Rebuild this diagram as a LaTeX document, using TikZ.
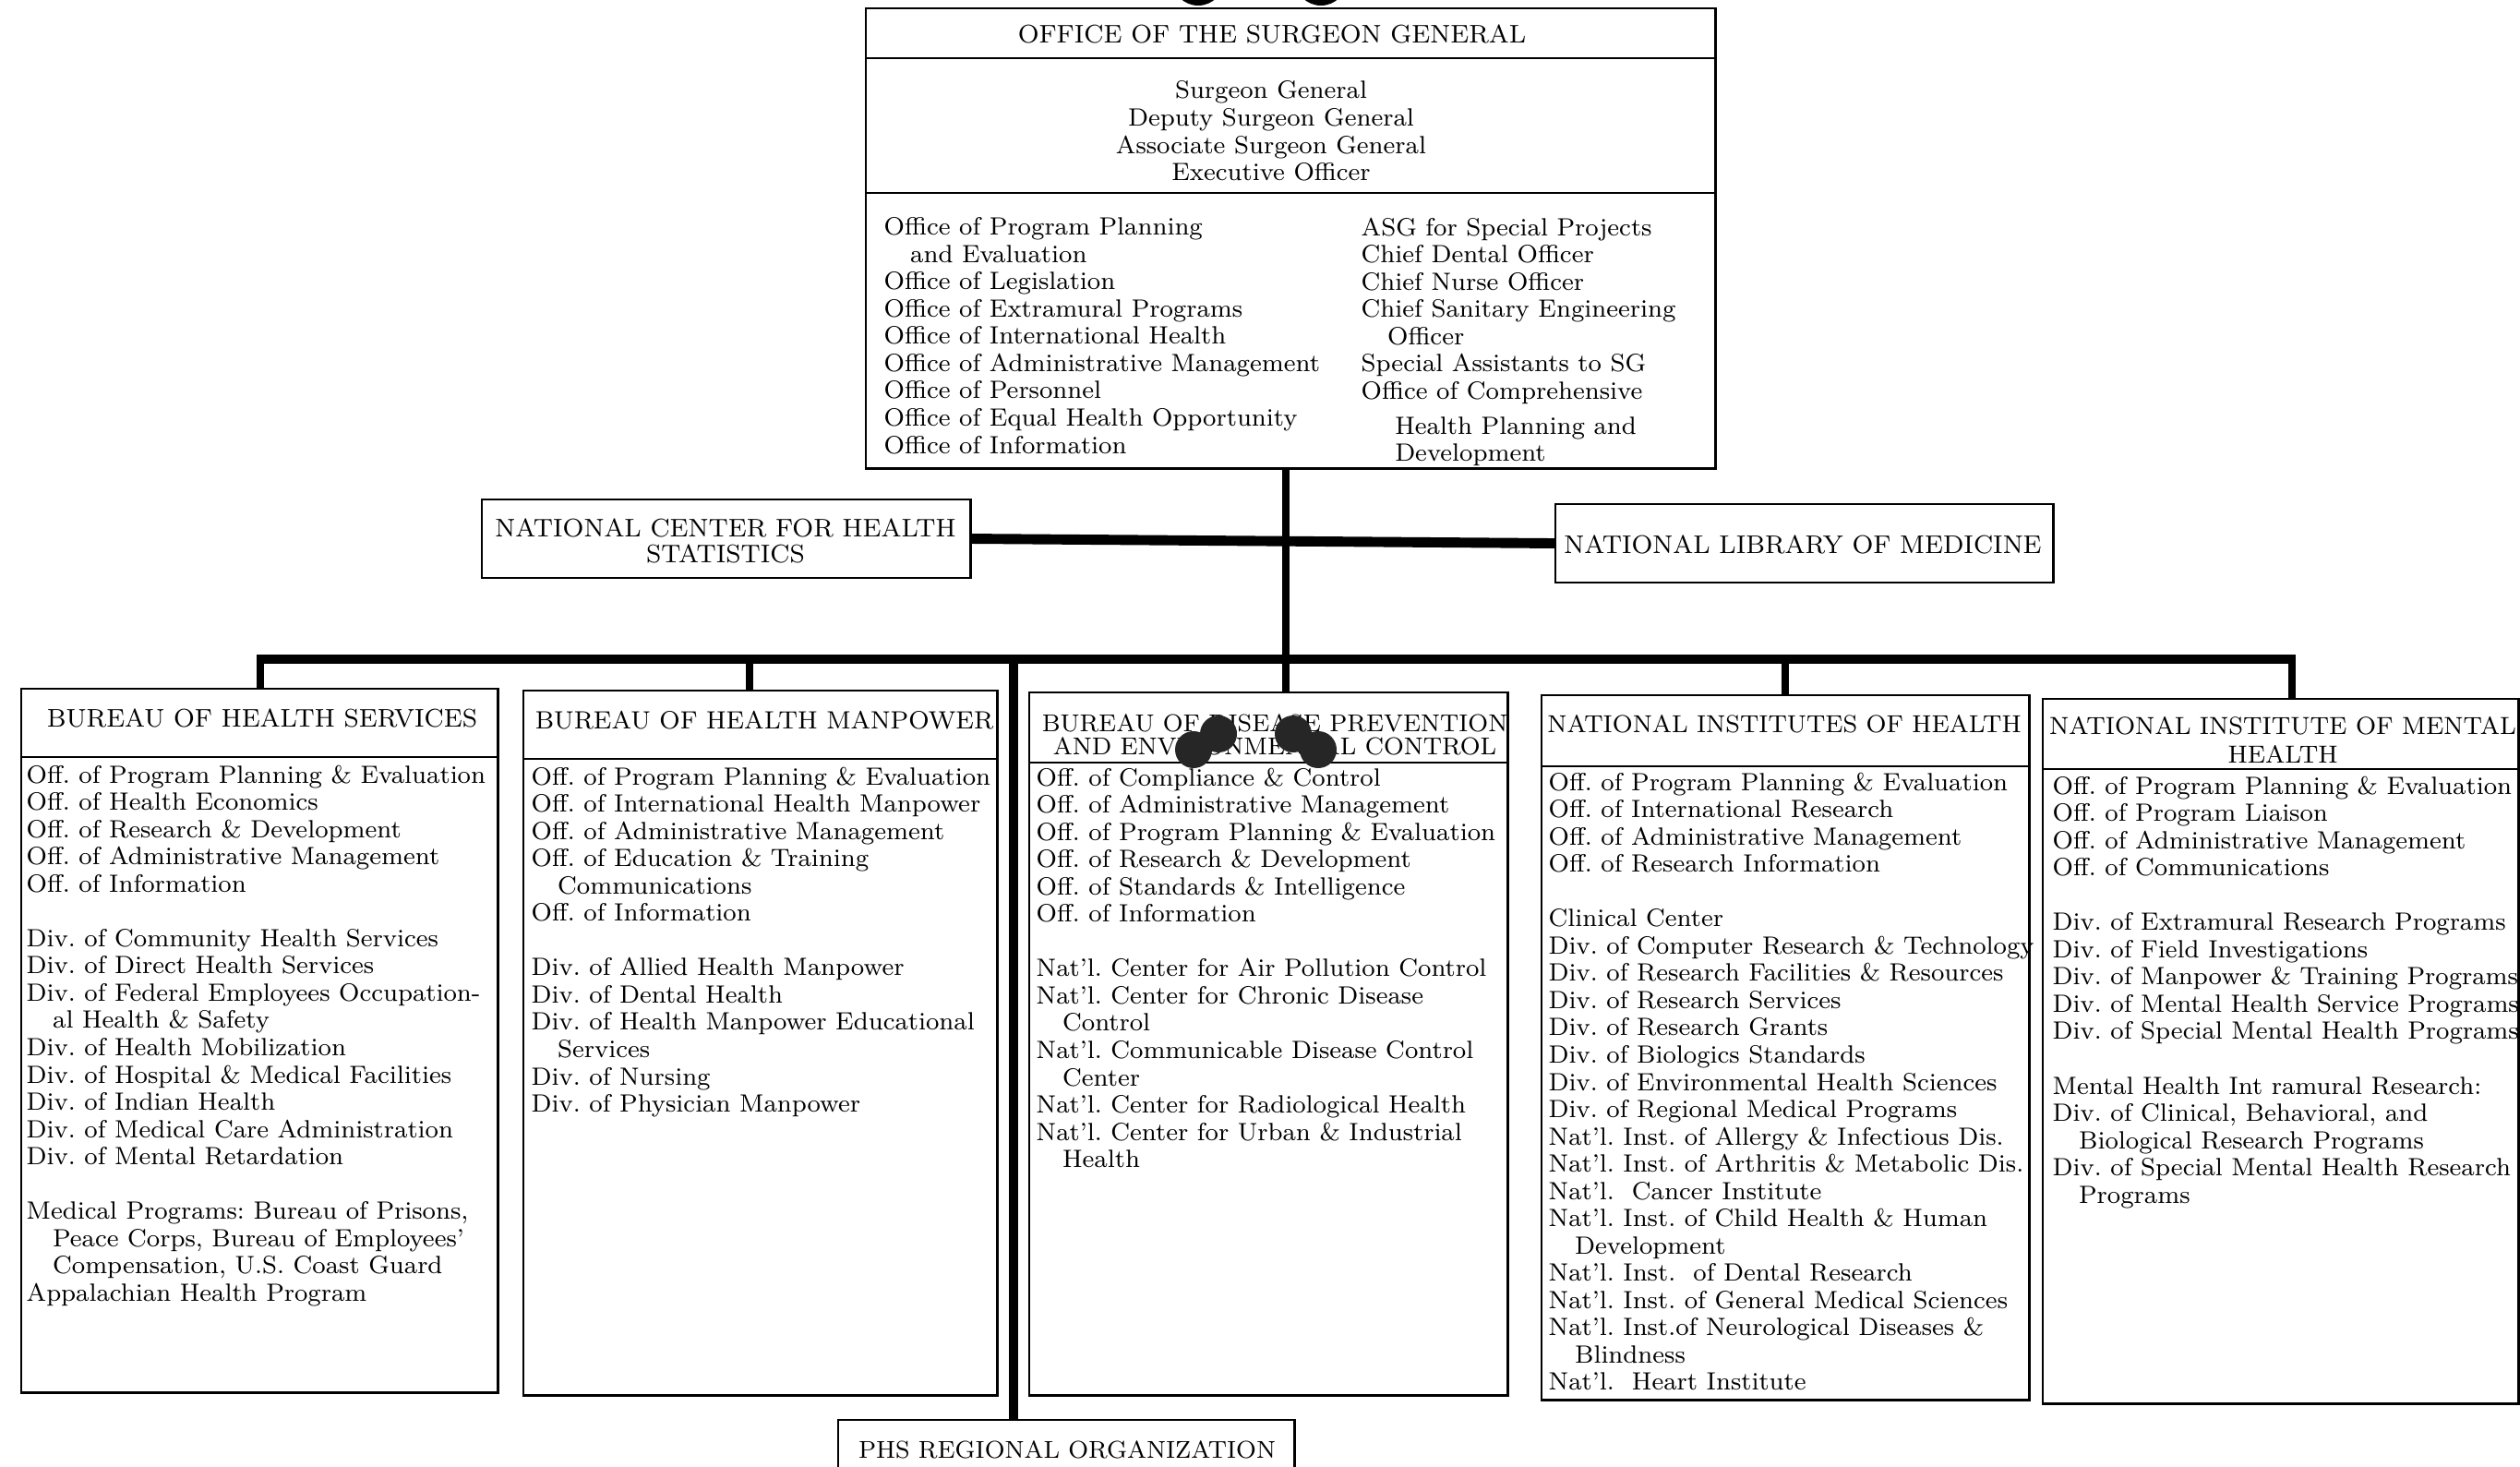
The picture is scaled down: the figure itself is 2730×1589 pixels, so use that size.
\documentclass[tikz,border=0pt]{standalone}
\usepackage{tikz}
\newcommand{\orgfont}{\fontsize{7.7}{8.4}\selectfont\frenchspacing}
\newcommand{\headfont}{\fontsize{7.85}{8.4}\selectfont}
\newcommand{\indnt}{\hspace*{1.05em}}
\tikzset{
  box/.style = {draw, line width=0.8pt, inner sep=0pt, outer sep=0pt, anchor=north west},
  head/.style = {font=\headfont, inner sep=0pt, align=center},
  list/.style = {font=\orgfont, inner sep=0pt, align=left, anchor=north west},
  sepline/.style = {line width=0.8pt},
  mainbar/.style = {line width=3.1pt},
  mainstem/.style = {line width=2.4pt},
  dropline/.style = {line width=2.2pt},
  blot/.style = {fill=black!85}
}

\begin{document}
\begin{tikzpicture}[x=0.01cm, y=-0.01cm]
    \useasboundingbox (0,0) rectangle (2730,1589);

    % boxes
    \node [box, minimum width=9.20cm, minimum height=4.98cm] (osg) at (938,9) {};
    \node [box, minimum width=5.29cm, minimum height=0.85cm] (nchs) at (522,541) {};
    \node [box, minimum width=5.39cm, minimum height=0.85cm] (nlm) at (1685,546) {};
    \node [box, minimum width=5.16cm, minimum height=7.62cm] (bhs) at (23,746) {};
    \node [box, minimum width=5.13cm, minimum height=7.63cm] (bhm) at (567,748) {};
    \node [box, minimum width=5.18cm, minimum height=7.61cm] (bdpec) at (1115,750) {};
    \node [box, minimum width=5.28cm, minimum height=7.63cm] (nih) at (1670,753) {};
    \node [box, minimum width=5.15cm, minimum height=7.63cm] (nimh) at (2213,757) {};
    \node [box, minimum width=4.94cm, minimum height=1.00cm] (phs) at (908,1538) {};

    \foreach \b/\y in {osg/63, osg/209, bhs/820, bhm/822, bdpec/826, nih/830, nimh/833}
        \draw [sepline] (\b.west |- 0,\y) -- (\b.east |- 0,\y);

    % connectors
    \coordinate (d-osg) at (1393,507);
    \coordinate (d-bhs) at (282,714);
    \coordinate (d-bhm) at (812,714);
    \coordinate (d-phs) at (1098,714);
    \coordinate (d-nih) at (1934,714);
    \coordinate (d-nimh) at (2483,714);
    \draw [mainbar] ([xshift=-0.04cm]d-bhs) -- ([xshift=0.04cm]d-nimh);
    \draw [mainstem] (d-osg |- osg.south) -- (d-osg |- bdpec.north);
    \draw [mainbar] (nchs.east) -- (nlm.west);
    \foreach \b in {bhs,bhm,nih,nimh}
        \draw [dropline] (d-\b) -- (d-\b |- \b.north);
    \draw [mainbar] (d-phs) -- (d-phs |- phs.north);

    % titles
    \node [head] (osg-t) at (1378,37) {OFFICE OF THE SURGEON GENERAL};
    \node [head, font=\orgfont] (osg-sg) at (1377,142) {Surgeon General\\Deputy Surgeon General\\Associate Surgeon General\\Executive Officer};
    \node [head] (nchs-t) at (786,586) {NATIONAL CENTER FOR HEALTH\\[-0.4pt]STATISTICS};
    \node [head] (nlm-t) at (1953,590) {NATIONAL LIBRARY OF MEDICINE};
    \node [head] (bhs-t) at (284,778) {BUREAU OF HEALTH SERVICES};
    \node [head, font=\fontsize{7.7}{8.4}\selectfont] (bhm-t) at (828,780) {BUREAU OF HEALTH MANPOWER};
    \node [head, font=\fontsize{7.5}{8.4}\selectfont] (bdpec-t) at (1381,796) {BUREAU OF DISEASE PREVENTION\\[-1.3pt]AND ENVIRONMENTAL CONTROL};
    \node [head, font=\fontsize{7.55}{8.4}\selectfont] (nih-t) at (1933,784) {NATIONAL INSTITUTES OF HEALTH};
    \node [head, font=\fontsize{7.6}{8.4}\selectfont] (nimh-t) at (2473,801) {NATIONAL INSTITUTE OF MENTAL\\[0.4pt]HEALTH};
    \node [head, font=\fontsize{7.5}{8.4}\selectfont] (phs-t) at (1156,1570) {PHS REGIONAL ORGANIZATION};

    % lists
    \node [list] (osg-l) at (957,235) {Office of Program Planning\\
        \indnt and Evaluation\\
        Office of Legislation\\
        Office of Extramural Programs\\
        Office of International Health\\
        Office of Administrative Management\\
        Office of Personnel\\
        Office of Equal Health Opportunity\\
        Office of Information};
    \node [list] (osg-r) at (1474,235) {ASG for Special Projects\\
        Chief Dental Officer\\
        Chief Nurse Officer\\
        Chief Sanitary Engineering\\
        \indnt Officer\\
        Special Assistants to SG\\
        Office of Comprehensive\\[2.4pt]
        \indnt\hspace*{0.3em}Health Planning and\\
        \indnt\hspace*{0.3em}Development};
    \node [list] (bhs-l) at (28,828) {Off. of Program Planning \& Evaluation\\
        Off. of Health Economics\\
        Off. of Research \& Development\\
        Off. of Administrative Management\\
        Off. of Information\\[8.4pt]
        Div. of Community Health Services\\
        Div. of Direct Health Services\\
        Div. of Federal Employees Occupation-\\
        \indnt al Health \& Safety\\
        Div. of Health Mobilization\\
        Div. of Hospital \& Medical Facilities\\
        Div. of Indian Health\\
        Div. of Medical Care Administration\\
        Div. of Mental Retardation\\[8.4pt]
        Medical Programs: Bureau of Prisons,\\
        \indnt Peace Corps, Bureau of Employees'\\
        \indnt Compensation, U.S. Coast Guard\\
        Appalachian Health Program};
    \node [list] (bhm-l) at (575,830) {Off. of Program Planning \& Evaluation\\
        Off. of International Health Manpower\\
        Off. of Administrative Management\\
        Off. of Education \& Training\\
        \indnt Communications\\
        Off. of Information\\[8.4pt]
        Div. of Allied Health Manpower\\
        Div. of Dental Health\\
        Div. of Health Manpower Educational\\
        \indnt Services\\
        Div. of Nursing\\
        Div. of Physician Manpower};
    \node [list] (bdpec-l) at (1122,831) {Off. of Compliance \& Control\\
        Off. of Administrative Management\\
        Off. of Program Planning \& Evaluation\\
        Off. of Research \& Development\\
        Off. of Standards \& Intelligence\\
        Off. of Information\\[8.4pt]
        Nat'l. Center for Air Pollution Control\\
        Nat'l. Center for Chronic Disease\\
        \indnt Control\\
        Nat'l. Communicable Disease Control\\
        \indnt Center\\
        Nat'l. Center for Radiological Health\\
        Nat'l. Center for Urban \& Industrial\\
        \indnt Health};
    \node [list] (nih-l) at (1677,836) {Off. of Program Planning \& Evaluation\\
        Off. of International Research\\
        Off. of Administrative Management\\
        Off. of Research Information\\[8.4pt]
        Clinical Center\\
        Div. of Computer Research \& Technology\\
        Div. of Research Facilities \& Resources\\
        Div. of Research Services\\
        Div. of Research Grants\\
        Div. of Biologics Standards\\
        Div. of Environmental Health Sciences\\
        Div. of Regional Medical Programs\\
        Nat'l. Inst. of Allergy \& Infectious Dis.\\
        Nat'l. Inst. of Arthritis \& Metabolic Dis.\\
        Nat'l.\ \ Cancer Institute\\
        Nat'l. Inst. of Child Health \& Human\\
        \indnt Development\\
        Nat'l. Inst.\ \ of Dental Research\\
        Nat'l. Inst. of General Medical Sciences\\
        Nat'l. Inst.of Neurological Diseases \&\\
        \indnt Blindness\\
        Nat'l.\ \ Heart Institute};
    \node [list] (nimh-l) at (2223,840) {Off. of Program Planning \& Evaluation\\
        Off. of Program Liaison\\
        Off. of Administrative Management\\
        Off. of Communications\\[8.4pt]
        Div. of Extramural Research Programs\\
        Div. of Field Investigations\\
        Div. of Manpower \& Training Programs\\
        Div. of Mental Health Service Programs\\
        Div. of Special Mental Health Programs\\[8.4pt]
        Mental Health Int ramural Research:\\
        Div. of Clinical, Behavioral, and\\
        \indnt Biological Research Programs\\
        Div. of Special Mental Health Research\\
        \indnt Programs};

    % punch-hole blots
    \fill [black] (1298,-22) circle [radius=0.28cm];
    \fill [black] (1431,-22) circle [radius=0.28cm];
    \fill [blot] (1320,795) circle [radius=0.2cm] (1293,812) circle [radius=0.2cm];
    \fill [blot] (1401,795) circle [radius=0.2cm] (1428,812) circle [radius=0.2cm];
\end{tikzpicture}
\end{document}
